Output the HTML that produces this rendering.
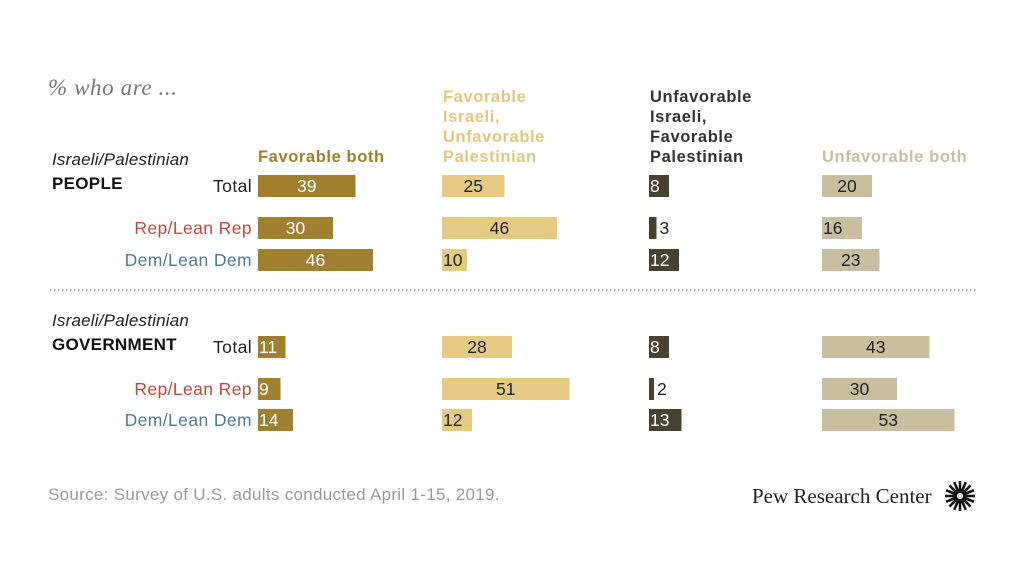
<!DOCTYPE html>
<html><head><meta charset="utf-8"><style>
body{margin:0;background:#fff;width:1024px;height:576px;overflow:hidden}
svg{display:block;font-family:"Liberation Sans",sans-serif}
</style></head><body>
<svg id="c" width="1024" height="576">
<text x="48" y="95" font-family="Liberation Serif,serif" font-style="italic" font-size="23" letter-spacing="0.6" fill="#777">% who are ...</text>
<g font-weight="bold" font-size="16.5" letter-spacing="0.6">
<text x="258" y="162" fill="#a07f2e">Favorable both</text>
<text x="443" y="102" fill="#e3c77e"><tspan x="443">Favorable</tspan><tspan x="443" dy="20">Israeli,</tspan><tspan x="443" dy="20">Unfavorable</tspan><tspan x="443" dy="20">Palestinian</tspan></text>
<text x="650" y="102" fill="#333"><tspan x="650">Unfavorable</tspan><tspan x="650" dy="20">Israeli,</tspan><tspan x="650" dy="20">Favorable</tspan><tspan x="650" dy="20">Palestinian</tspan></text>
<text x="822" y="162" fill="#c9bf9e">Unfavorable both</text>
</g>
<text x="52" y="165" font-style="italic" font-size="17" letter-spacing="0.2" fill="#222">Israeli/Palestinian</text>
<text x="52" y="189" font-weight="bold" font-size="17" letter-spacing="0.3" fill="#111">PEOPLE</text>
<text x="52" y="326" font-style="italic" font-size="17" letter-spacing="0.2" fill="#222">Israeli/Palestinian</text>
<text x="52" y="350" font-weight="bold" font-size="17" letter-spacing="0.3" fill="#111">GOVERNMENT</text>
<line x1="50" y1="290" x2="978" y2="290" stroke="#888" stroke-width="1.2" stroke-dasharray="1.5,2.5"/>
<g id="bars"></g>
<text x="48" y="500" font-size="17" letter-spacing="0.3" fill="#999">Source: Survey of U.S. adults conducted April 1-15, 2019.</text>
<text x="752" y="503" font-family="Liberation Serif,serif" font-size="21" fill="#222">Pew Research Center</text>
<g id="logo" transform="translate(960,496)"></g>
</svg>
<script>
const rowLabels=["Total","Rep/Lean Rep","Dem/Lean Dem","Total","Rep/Lean Rep","Dem/Lean Dem"];
const favBoth=[39,30,46,11,9,14];
const favIsrUnfavPal=[25,46,10,28,51,12];
const unfavIsrFavPal=[8,3,12,8,2,13];
const unfavBoth=[20,16,23,43,30,53];
const rowY=[186,228,260,347,389,420];
const cols=[{d:favBoth,x:258,c:"#a07f2e",t:"#fff",n:"favorable-both"},{d:favIsrUnfavPal,x:442,c:"#e5cb82",t:"#222",n:"fav-israeli"},{d:unfavIsrFavPal,x:649,c:"#48432e",t:"#fff",n:"unfav-israeli"},{d:unfavBoth,x:822,c:"#c9bf9e",t:"#222",n:"unfavorable-both"}];
const lblColors=["#222","#c4473a","#4f7896","#222","#c4473a","#4f7896"];
const S=2.5,H=22,ns="http://www.w3.org/2000/svg",g=document.getElementById("bars");
const sx=v=>v*S;
rowLabels.forEach((l,i)=>{const t=document.createElementNS(ns,"text");


t.setAttribute("x",252);t.setAttribute("y",rowY[i]+6);t.setAttribute("text-anchor","end");t.setAttribute("font-size","17.5");t.setAttribute("letter-spacing","0.4");t.setAttribute("fill",lblColors[i]);t.textContent=l;g.appendChild(t);});
cols.forEach(c=>c.d.forEach((v,i)=>{const w=sx(v),y=rowY[i]-H/2;
const r=document.createElementNS(ns,"rect");


r.setAttribute("x",c.x);r.setAttribute("y",y);r.setAttribute("width",w);r.setAttribute("height",H);r.setAttribute("fill",c.c);g.appendChild(r);
const t=document.createElementNS(ns,"text");


t.setAttribute("y",rowY[i]+6);t.setAttribute("font-size","17.5");
if(w<12){t.setAttribute("x",c.x+w+3);t.setAttribute("fill","#222");}
else if(w<45){t.setAttribute("x",c.x+1);t.setAttribute("fill",c.t);}
else{t.setAttribute("x",c.x+w/2);t.setAttribute("text-anchor","middle");t.setAttribute("fill",c.t);}
t.textContent=v;g.appendChild(t);}));
const lg=document.getElementById("logo");
for(let k=0;k<16;k++){const a=k*Math.PI/8,l=document.createElementNS(ns,"line");


l.setAttribute("x1",3*Math.cos(a));l.setAttribute("y1",3*Math.sin(a));l.setAttribute("x2",15*Math.cos(a));l.setAttribute("y2",15*Math.sin(a));l.setAttribute("stroke","#111");l.setAttribute("stroke-width","2.6");lg.appendChild(l);}
</script>
</body></html>
